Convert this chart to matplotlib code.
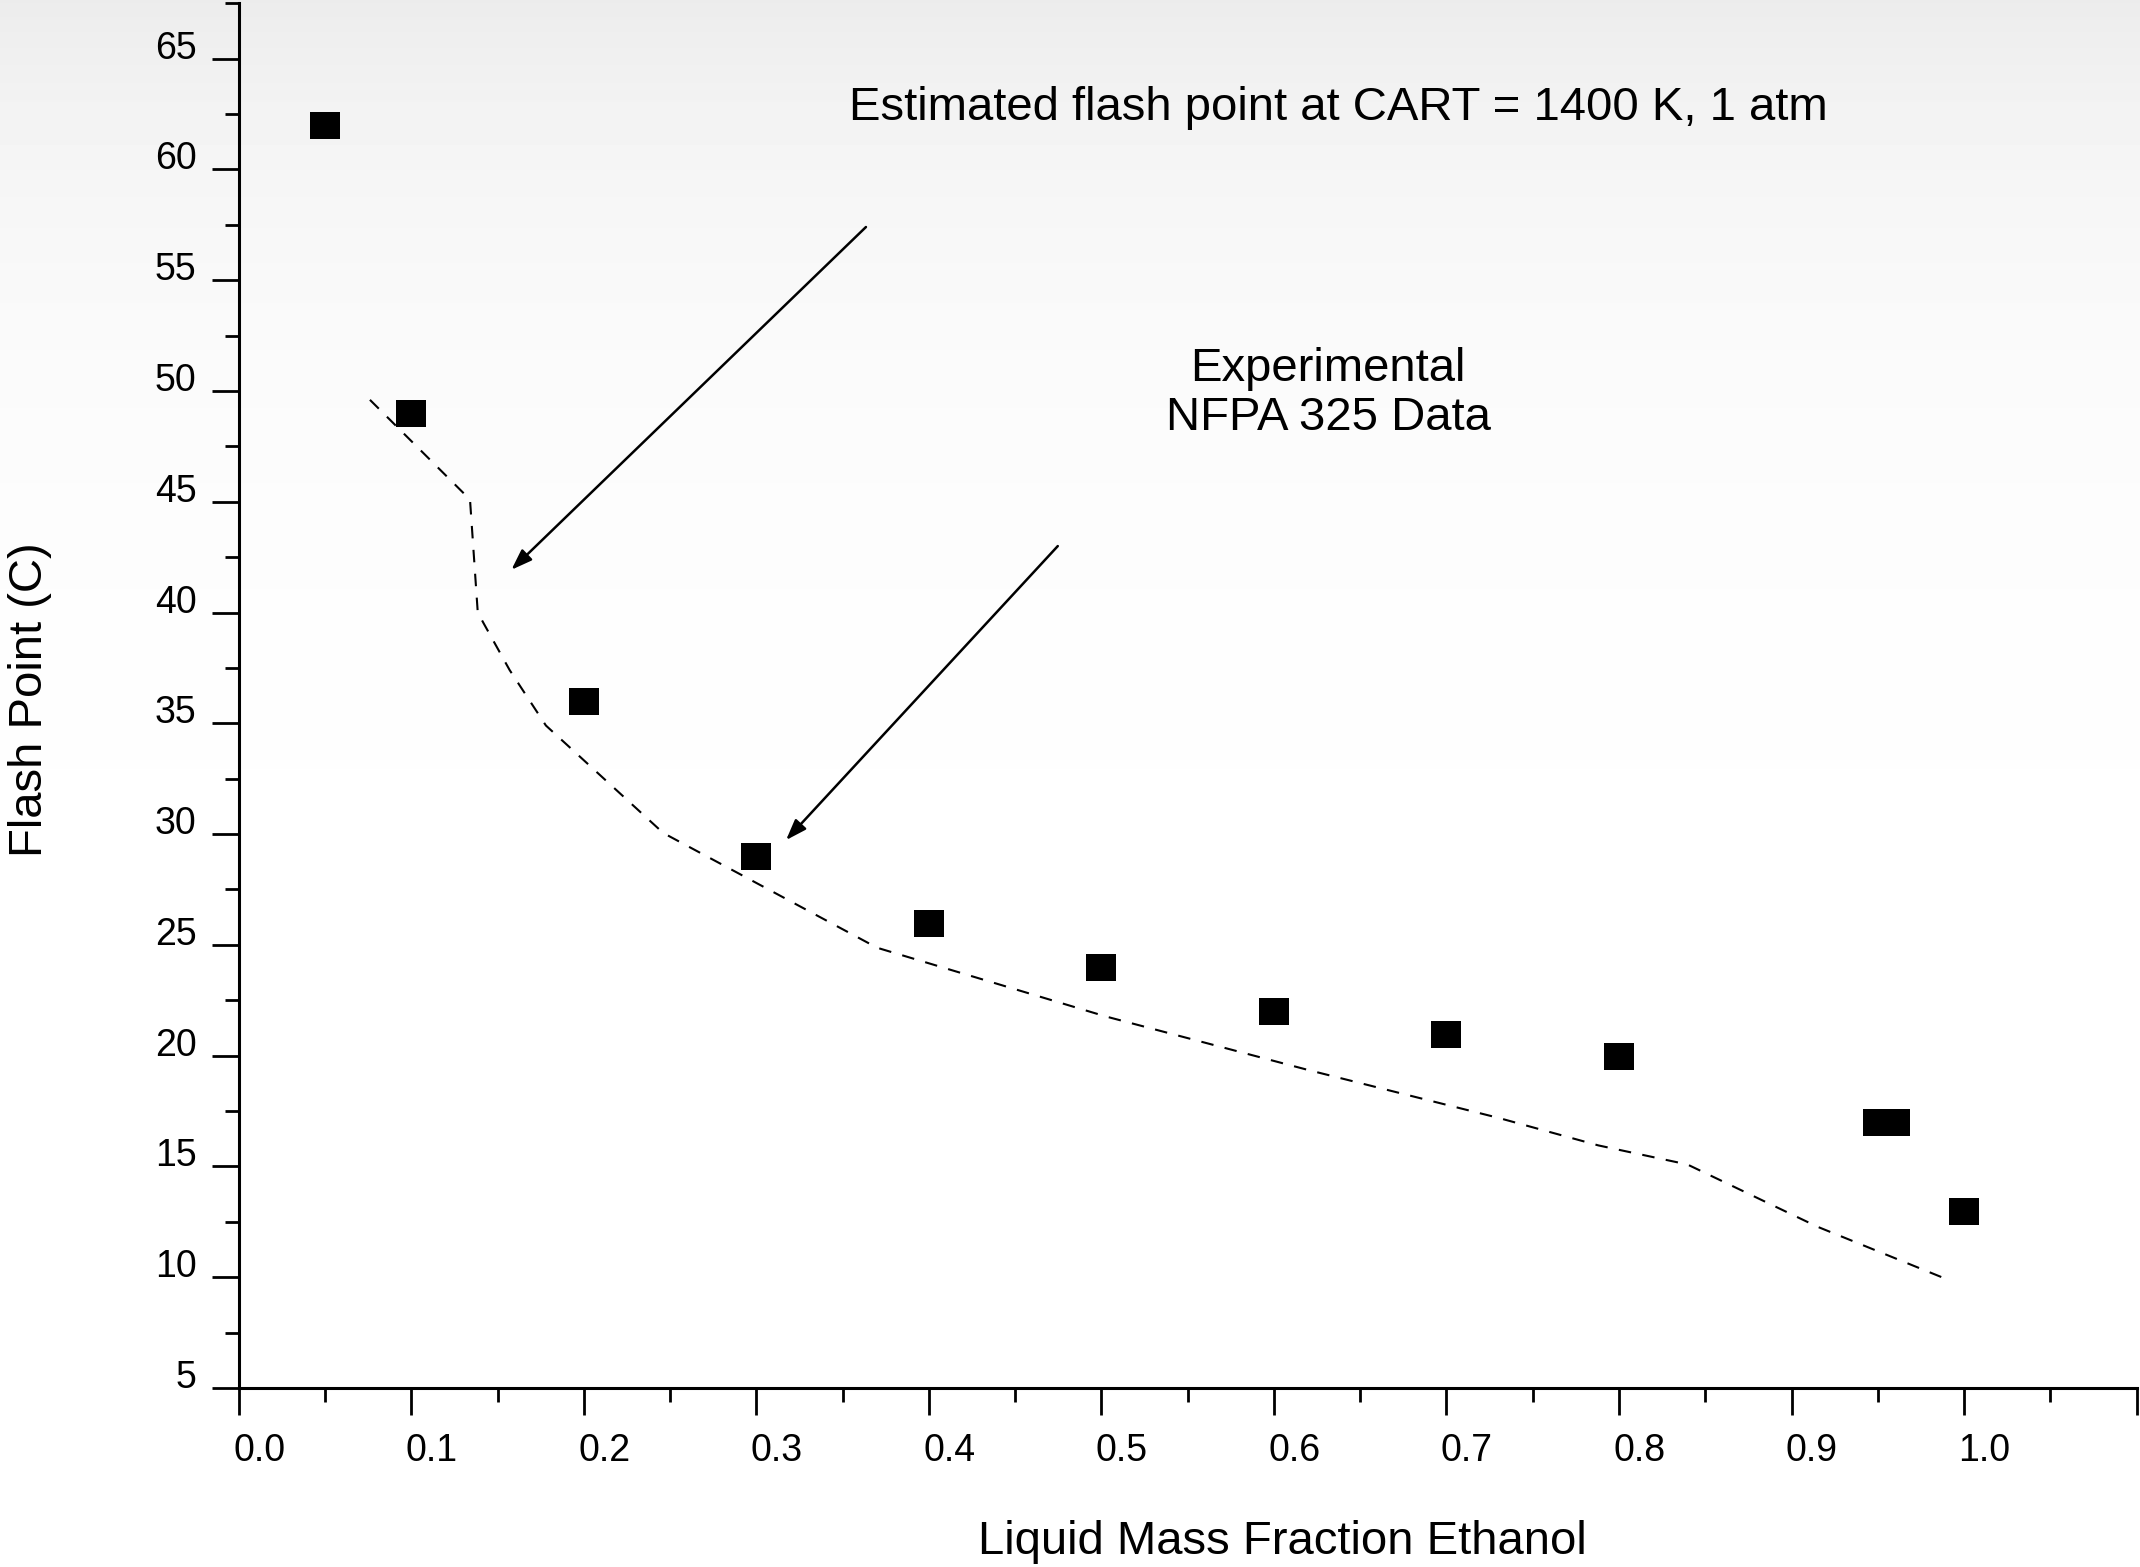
import numpy as np
import matplotlib
matplotlib.use("Agg")
import matplotlib.pyplot as plt
from matplotlib.ticker import MultipleLocator, FixedLocator, FixedFormatter
from matplotlib.transforms import ScaledTranslation

plt.rcParams['font.family'] = ['Liberation Sans', 'DejaVu Sans']

# experimental NFPA 325 data
exp_x = [0.05, 0.1, 0.2, 0.3, 0.4, 0.5, 0.6, 0.7, 0.8, 0.95, 0.96, 1.0]
exp_y = [62, 49, 36, 29, 26, 24, 22, 21, 20, 17, 17, 13]

# estimated flash point (CART = 1400 K)
est_x = [0.076, 0.134, 0.1385, 0.142, 0.157, 0.178, 0.246, 0.370, 0.5025,
         0.620, 0.7307, 0.788, 0.8396, 0.915, 0.989]
est_y = [49.6, 45.1, 40.0, 39.5, 37.4, 34.9, 30.05, 24.87, 21.77,
         19.35, 17.18, 15.95, 15.09, 12.28, 9.94]

# arrows (tail -> head)
arrow_tails = [(0.3635, 57.4), (0.4747, 43.0)]
arrow_heads = [(0.158, 41.93), (0.3172, 29.73)]

xticks = [0.0, 0.1, 0.2, 0.3, 0.4, 0.5, 0.6, 0.7, 0.8, 0.9, 1.0, 1.1]
xticklabels = ['0.0', '0.1', '0.2', '0.3', '0.4', '0.5', '0.6', '0.7', '0.8', '0.9', '1.0', '']
yticks = [5, 10, 15, 20, 25, 30, 35, 40, 45, 50, 55, 60, 65]

W, H = 2140, 1567
fig = plt.figure(figsize=(W / 100, H / 100), dpi=100)

# faint grey backdrop at the top
bg = fig.add_axes([0, 0, 1, 1], zorder=-1)
rows = np.arange(H)[::-1]
grad = 1 - 0.075 * np.exp(-(H - 1 - rows) / 260.0)
bg.imshow(grad[:, None], cmap='gray', vmin=0, vmax=1, aspect='auto', extent=(0, 1, 0, 1))
bg.axis('off')

ax = fig.add_axes([0.1116, 0.11423, 0.8868, 0.8837])
ax.patch.set_alpha(0)

rect = [(-1, -0.9), (1, -0.9), (1, 0.9), (-1, 0.9), (-1, -0.9)]
ax.plot(exp_x, exp_y, linestyle='none', marker=rect, markersize=21.6,
        color='black', markeredgewidth=0, zorder=3)
ax.plot(est_x, est_y, color='black', linewidth=1.5, dashes=(6, 5.5), zorder=2)

for (tx, ty), (hx, hy) in zip(arrow_tails, arrow_heads):
    ax.annotate('', xy=(hx, hy), xytext=(tx, ty),
                arrowprops=dict(arrowstyle='-|>,head_length=0.45,head_width=0.16',
                                mutation_scale=28, color='black', lw=1.8,
                                shrinkA=0, shrinkB=0))

ax.set_xlim(0, 1.1)
ax.set_ylim(5, 67.5)

for s in ['top', 'right']:
    ax.spines[s].set_visible(False)
for s in ['left', 'bottom']:
    ax.spines[s].set_linewidth(2.2)

ax.xaxis.set_major_locator(FixedLocator(xticks))
ax.xaxis.set_major_formatter(FixedFormatter(xticklabels))
ax.xaxis.set_minor_locator(MultipleLocator(0.05))
ax.yaxis.set_major_locator(FixedLocator(yticks))
ax.yaxis.set_minor_locator(MultipleLocator(2.5))

ax.tick_params(axis='both', which='major', direction='out', length=19.5, width=2,
               labelsize=27)
ax.tick_params(axis='both', which='minor', direction='out', length=10, width=2)
ax.tick_params(axis='x', which='major', pad=13)
ax.tick_params(axis='y', which='major', pad=11)

shift = ScaledTranslation(-4 / 72, 0, fig.dpi_scale_trans)
for lab in ax.get_xticklabels():
    lab.set_ha('left')
    lab.set_transform(lab.get_transform() + shift)
for lab in ax.get_yticklabels():
    lab.set_va('baseline')

fig.text(30 / W, 1 - 699.5 / H, 'Flash Point (C)', rotation=90,
         ha='center', va='center', fontsize=34)
fig.text(1282 / W, 13 / H, 'Liquid Mass Fraction Ethanol',
         ha='center', va='baseline', fontsize=34)

fig.text(849 / W, 1 - 120 / H, 'Estimated flash point at CART = 1400 K, 1 atm',
         ha='left', va='baseline', fontsize=34)
fig.text(1328 / W, 1 - 381 / H, 'Experimental', ha='center', va='baseline', fontsize=34)
fig.text(1328 / W, 1 - 430 / H, 'NFPA 325 Data', ha='center', va='baseline', fontsize=34)

fig.savefig('out.png', dpi=100)
